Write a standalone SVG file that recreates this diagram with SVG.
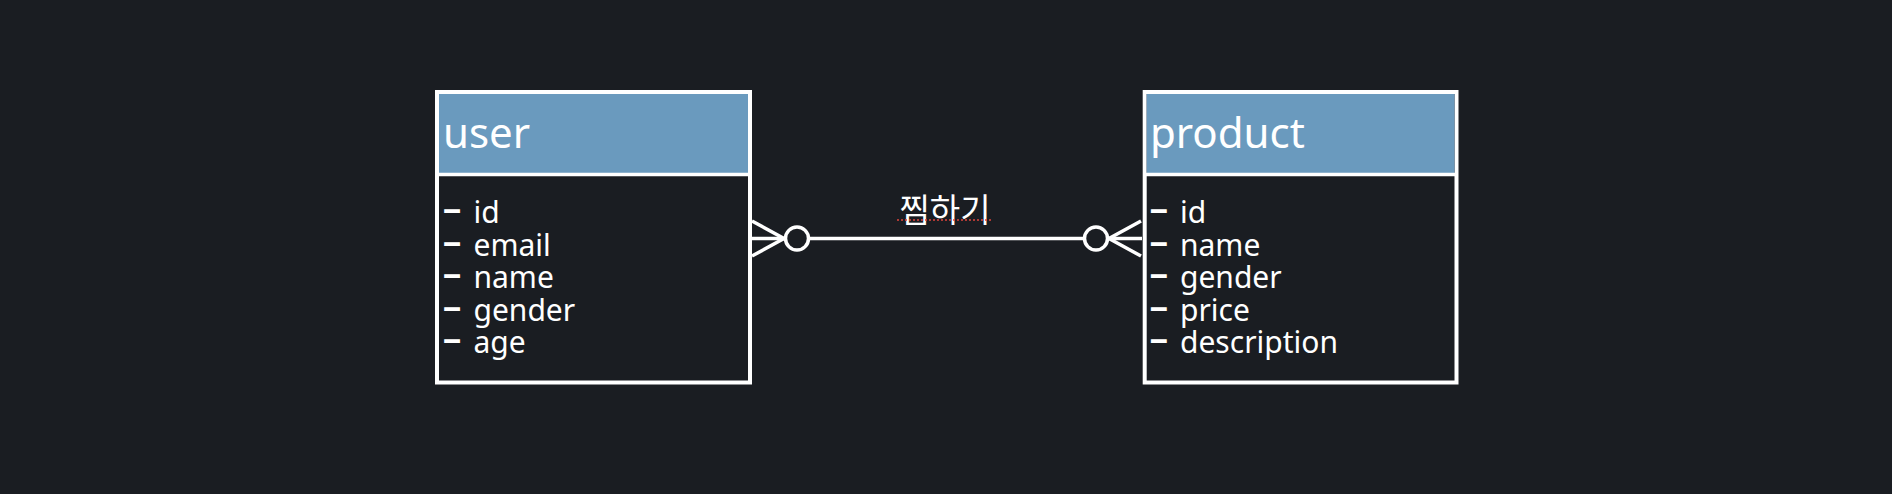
<svg xmlns="http://www.w3.org/2000/svg" width="1892" height="494" viewBox="0 0 1892 494">
  <style>
    .box { fill: #1A1D22; stroke: #FFFFFF; stroke-width: 4; }
    .head { fill: #6A9ABE; }
    .div { stroke: #FFFFFF; stroke-width: 3.5; }
    .title { font-family: "Noto Sans", "Open Sans", sans-serif; font-size: 42px; fill: #FFFFFF; }
    .attr { font-family: "Noto Sans", "Open Sans", sans-serif; font-size: 30px; fill: #FFFFFF; }
    .dash { font-weight: 700; }
    .conn { stroke: #FFFFFF; stroke-width: 3.5; fill: none; stroke-linecap: butt; }
    .ring { stroke: #FFFFFF; stroke-width: 3.5; fill: #1A1D22; }
    .label { font-family: "Noto Sans CJK KR", "Noto Sans", sans-serif; font-size: 33px; fill: #FFFFFF; }
    .squiggle { stroke: #E0443C; stroke-width: 1.6; stroke-dasharray: 2 2; fill: none; }
  </style>
  <rect x="0" y="0" width="1892" height="494" fill="#1A1D22"/>

  <g id="connectors">
    <line class="conn" x1="752" y1="238.5" x2="1142" y2="238.5"/>
    <polyline class="conn" points="752,221 784,238.5 752,256"/>
    <polyline class="conn" points="1141,221 1109,238.5 1141,256"/>
    <circle class="ring" cx="797" cy="238.5" r="11.5"/>
    <circle class="ring" cx="1096" cy="238.5" r="11.5"/>
    <text class="label" x="945" y="221.5" text-anchor="middle">찜하기</text>
    <line class="squiggle" x1="897" y1="220" x2="992" y2="220"/>
  </g>

  <g id="user">
    <rect class="box" x="437" y="92" width="313" height="290.5"/>
    <rect class="head" x="439" y="94" width="309" height="79.5"/>
    <line class="div" x1="437" y1="174.5" x2="750" y2="174.5"/>
    <text class="title" x="443" y="148">user</text>
    <text class="attr dash" transform="translate(442.5,219.3) scale(2,1)">-</text>
    <text class="attr" x="473.5" y="223.3">id</text>
    <text class="attr dash" transform="translate(442.5,251.8) scale(2,1)">-</text>
    <text class="attr" x="473.5" y="255.8">email</text>
    <text class="attr dash" transform="translate(442.5,284.3) scale(2,1)">-</text>
    <text class="attr" x="473.5" y="288.3">name</text>
    <text class="attr dash" transform="translate(442.5,316.8) scale(2,1)">-</text>
    <text class="attr" x="473.5" y="320.8">gender</text>
    <text class="attr dash" transform="translate(442.5,349.3) scale(2,1)">-</text>
    <text class="attr" x="473.5" y="353.3">age</text>
  </g>

  <g id="product">
    <rect class="box" x="1144.7" y="92" width="311.8" height="290.5"/>
    <rect class="head" x="1146.7" y="94" width="307.8" height="79.5"/>
    <line class="div" x1="1144.7" y1="174.5" x2="1456.5" y2="174.5"/>
    <text class="title" x="1150" y="148">product</text>
    <text class="attr dash" transform="translate(1149.3,219.3) scale(2,1)">-</text>
    <text class="attr" x="1180" y="223.3">id</text>
    <text class="attr dash" transform="translate(1149.3,251.8) scale(2,1)">-</text>
    <text class="attr" x="1180" y="255.8">name</text>
    <text class="attr dash" transform="translate(1149.3,284.3) scale(2,1)">-</text>
    <text class="attr" x="1180" y="288.3">gender</text>
    <text class="attr dash" transform="translate(1149.3,316.8) scale(2,1)">-</text>
    <text class="attr" x="1180" y="320.8">price</text>
    <text class="attr dash" transform="translate(1149.3,349.3) scale(2,1)">-</text>
    <text class="attr" x="1180" y="353.3">description</text>
  </g>
</svg>
